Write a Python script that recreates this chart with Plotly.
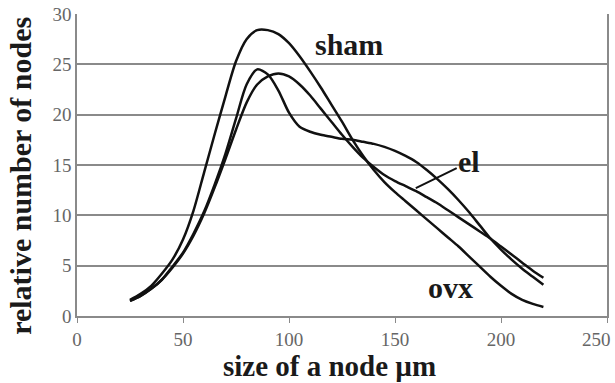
import plotly.graph_objects as go

size_um = [25, 30, 35, 40, 45, 50, 55, 60, 65, 70, 75, 80, 85, 90, 95, 100,
           105, 110, 115, 120, 125, 130, 135, 140, 145, 150, 155, 160, 165,
           170, 175, 180, 185, 190, 195, 200, 205, 210, 215, 220]

sham = [1.6, 2.2, 3.0, 4.2, 5.6, 7.6, 10.5, 14.3, 18.1, 21.8, 25.3, 27.5, 28.4,
        28.4, 28.0, 27.1, 25.8, 24.3, 22.7, 21.0, 19.3, 17.5, 15.9, 14.5, 13.3,
        12.3, 11.4, 10.5, 9.6, 8.7, 7.8, 6.9, 5.9, 4.9, 3.9, 3.0, 2.2, 1.6, 1.2, 0.9]

ovx = [1.5, 2.0, 2.7, 3.6, 4.9, 6.3, 8.2, 10.4, 13.1, 16.1, 19.6, 23.0, 24.5,
       24.0, 22.4, 20.2, 18.8, 18.3, 18.0, 17.8, 17.6, 17.5, 17.3, 17.1, 16.8,
       16.4, 15.9, 15.3, 14.5, 13.6, 12.6, 11.5, 10.3, 9.0, 7.7, 6.6, 5.6, 4.7, 3.9, 3.1]

el = [1.5, 2.0, 2.7, 3.6, 4.8, 6.2, 8.0, 10.2, 12.8, 15.6, 18.5, 21.2, 23.0,
      23.8, 24.1, 23.8, 23.0, 21.9, 20.6, 19.3, 18.0, 16.8, 15.7, 14.8, 14.0,
      13.4, 12.9, 12.4, 11.8, 11.2, 10.5, 9.8, 9.1, 8.4, 7.7, 6.9, 6.1, 5.3, 4.5, 3.8]

x_ticks = [0, 50, 100, 150, 200, 250]
x_tick_labels = ["0", "50", "100", "150", "200", ""]
x_last_label = "250"
y_ticks = [0, 5, 10, 15, 20, 25, 30]

SERIF = "Liberation Serif, Times New Roman, serif"
GRID = "#8a8a8a"
TICK_FONT = dict(family=SERIF, size=19, color="#666666")

fig = go.Figure()
for name, ys in [("sham", sham), ("ovx", ovx), ("el", el)]:
    fig.add_trace(go.Scatter(x=size_um, y=ys, mode="lines", name=name,
                             line=dict(color="#111111", width=2.5,
                                       shape="spline", smoothing=0.8)))

lab_font = dict(family=SERIF, size=30, color="#1a1a1a")
fig.add_annotation(x=128.3, y=27.0, text="<b>sham</b>", showarrow=False,
                   font=lab_font, xref="x", yref="y")
fig.add_annotation(x=176.2, y=2.8, text="<b>ovx</b>", showarrow=False,
                   font=lab_font, xref="x", yref="y")
fig.add_annotation(x=159.8, y=12.7, ax=185.0, ay=15.3, axref="x", ayref="y",
                   text="<b>el</b>", showarrow=True, arrowhead=0,
                   arrowwidth=2, arrowcolor="#111111", standoff=0,
                   font=lab_font, xref="x", yref="y")

# last x tick label, nudged so it stays inside the picture
fig.add_annotation(x=x_ticks[-1], y=0, xref="x", yref="y", text=x_last_label,
                   showarrow=False, font=TICK_FONT, xanchor="right",
                   yanchor="middle", xshift=6, yshift=-23)

title_font = dict(family=SERIF, size=29, color="#1a1a1a")
fig.add_annotation(x=0.476, y=-0.166, xref="paper", yref="paper",
                   text="<b>size of a node µm</b>", showarrow=False,
                   font=title_font, xanchor="center", yanchor="middle")
fig.add_annotation(x=-0.107, y=0.465, xref="paper", yref="paper",
                   text="<b>relative number of nodes</b>", showarrow=False,
                   font=dict(family=SERIF, size=30, color="#1a1a1a"),
                   textangle=-90, xanchor="center", yanchor="middle")

fig.update_xaxes(range=[0, 250], tickvals=x_ticks, ticktext=x_tick_labels,
                 showgrid=False,
                 showline=True, linecolor=GRID, linewidth=1.5,
                 ticks="outside", ticklen=5, tickcolor=GRID, zeroline=False,
                 ticklabeloverflow="allow", automargin=False,
                 tickfont=TICK_FONT)
fig.update_yaxes(range=[0, 30], tickvals=y_ticks, showgrid=True,
                 gridcolor=GRID, gridwidth=1.5, showline=True, mirror=True,
                 linecolor=GRID, linewidth=1.5, zeroline=False, ticks="",
                 automargin=False, tickfont=TICK_FONT)

fig.update_layout(width=615, height=383, showlegend=False,
                  plot_bgcolor="white", paper_bgcolor="white",
                  margin=dict(l=77, r=8, t=14, b=67))

fig.write_html("out.html", config={"displayModeBar": False},
               post_script="document.body.style.margin='0';"
                           "document.body.style.padding='0';")
